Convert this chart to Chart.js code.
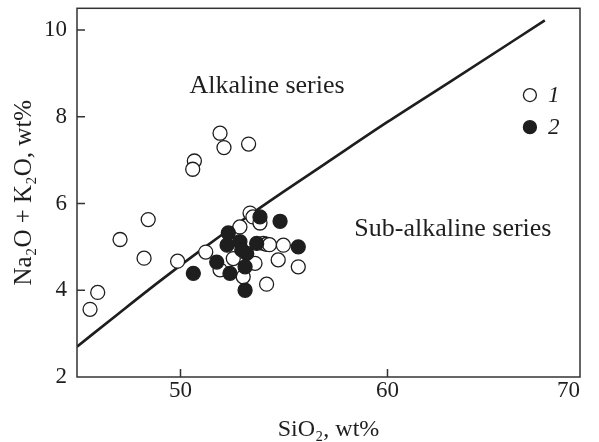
<!DOCTYPE html>
<html><head><meta charset="utf-8">
<script src="https://cdn.jsdelivr.net/npm/chart.js@4/dist/chart.umd.min.js"></script>
<style>html,body{margin:0;padding:0;background:#fff}canvas{display:block}</style>
</head><body>
<canvas id="c" width="599" height="442"></canvas>
<script>
// ---- data ----
const xTicks = [50, 60, 70];
const yTicks = [2, 4, 6, 8, 10];
const xLabel = 'SiO\u2082, wt%';
const yLabel = 'Na\u2082O + K\u2082O, wt%';
const seriesNames = ['1', '2'];
const regionLabels = ['Alkaline series', 'Sub-alkaline series'];
const regionX = [54.18, 63.16];
const regionY = [8.70, 5.41];

const series1X = [45.63, 46.0, 47.08, 48.24, 48.44, 49.86, 51.22, 50.67, 50.59, 51.91, 52.10, 53.29, 53.36, 53.50, 53.84, 52.87, 54.0, 54.16, 54.3, 54.97, 54.72, 55.69, 54.16, 52.55, 53.6, 51.91, 53.03];
const series1Y = [3.56, 3.95, 5.17, 4.74, 5.63, 4.67, 4.88, 6.98, 6.79, 7.62, 7.29, 7.37, 5.78, 5.69, 5.55, 5.46, 5.08, 5.06, 5.05, 5.04, 4.70, 4.54, 4.14, 4.73, 4.62, 4.47, 4.31];

const series2X = [50.62, 51.75, 52.31, 52.25, 52.87, 53.68, 53.84, 54.81, 55.69, 53.2, 53.12, 52.39, 53.12, 52.96];
const series2Y = [4.39, 4.65, 5.32, 5.04, 5.12, 5.08, 5.69, 5.59, 5.00, 4.85, 4.54, 4.39, 4.00, 4.93];

const boundaryX = [45, 47, 49, 51, 53, 55, 57, 60, 63, 67.6];
const boundaryY = [2.70, 3.46, 4.21, 4.93, 5.62, 6.28, 6.92, 7.88, 8.80, 10.22];

const legendX = 66.88;
const legendY = [8.50, 7.76];

const X_MIN = 45, X_MAX = 69.3, Y_MIN = 2, Y_MAX = 10.5;
const INK = '#1e1e1e';
const SERIF = '"Liberation Serif", "DejaVu Serif", serif';

const zip = (xs, ys) => xs.map((x, i) => ({x, y: ys[i]}));

const decor = {
  id: 'decor',
  afterDatasetsDraw(chart) {
    const {ctx, chartArea: a, scales: {x, y}} = chart;
    ctx.save();
    // frame
    ctx.strokeStyle = '#333';
    ctx.lineWidth = 1.5;
    ctx.strokeRect(a.left, a.top, a.right - a.left, a.bottom - a.top);
    // inward tick marks
    ctx.beginPath();
    xTicks.forEach(v => {
      if (v > X_MIN && v < X_MAX) {
        const px = x.getPixelForValue(v);
        ctx.moveTo(px, a.bottom); ctx.lineTo(px, a.bottom - 8);
      }
    });
    yTicks.forEach(v => {
      if (v > Y_MIN && v < Y_MAX) {
        const py = y.getPixelForValue(v);
        ctx.moveTo(a.left, py); ctx.lineTo(a.left + 8, py);
      }
    });
    ctx.stroke();
    // region labels
    ctx.fillStyle = INK;
    ctx.font = '26px ' + SERIF;
    ctx.textAlign = 'center';
    ctx.textBaseline = 'middle';
    regionLabels.forEach((t, i) => {
      ctx.fillText(t, x.getPixelForValue(regionX[i]), y.getPixelForValue(regionY[i]));
    });
    // legend
    const lx = x.getPixelForValue(legendX);
    legendY.forEach((v, i) => {
      const py = y.getPixelForValue(v);
      ctx.beginPath();
      ctx.arc(lx, py, 6.5, 0, Math.PI * 2);
      ctx.fillStyle = i === 0 ? '#fff' : INK;
      ctx.fill();
      ctx.lineWidth = 1.3;
      ctx.strokeStyle = INK;
      ctx.stroke();
      ctx.fillStyle = INK;
      ctx.font = 'italic 23px ' + SERIF;
      ctx.textAlign = 'left';
      ctx.fillText(seriesNames[i], lx + 18, py + 1);
    });
    ctx.restore();
  }
};

new Chart(document.getElementById('c'), {
  type: 'scatter',
  data: {
    datasets: [
      {
        type: 'line', label: 'boundary', order: 3,
        data: zip(boundaryX, boundaryY),
        borderColor: INK, borderWidth: 2.6, pointRadius: 0, fill: false,
        cubicInterpolationMode: 'monotone'
      },
      {
        label: seriesNames[0], order: 2,
        data: zip(series1X, series1Y),
        pointRadius: 7, pointBackgroundColor: '#fff', pointBorderColor: INK,
        pointBorderWidth: 1.3, pointHoverRadius: 7
      },
      {
        label: seriesNames[1], order: 1,
        data: zip(series2X, series2Y),
        pointRadius: 7, pointBackgroundColor: INK, pointBorderColor: INK,
        pointBorderWidth: 1.3, pointHoverRadius: 7
      }
    ]
  },
  options: {
    responsive: false,
    animation: false,
    events: [],
    layout: {padding: {top: 8, right: 19, left: 0, bottom: 0}},
    plugins: {legend: {display: false}, tooltip: {enabled: false}},
    scales: {
      x: {
        type: 'linear', min: X_MIN, max: X_MAX,
        grid: {display: false, drawTicks: false},
        border: {display: false},
        afterBuildTicks: s => { s.ticks = [{value: X_MIN}].concat(xTicks.map(v => ({value: Math.min(v, X_MAX)}))); },
        afterFit: s => { s.height = 65; s.paddingLeft = 0; s.paddingRight = 0; },
        ticks: {
          color: INK, padding: 0, maxRotation: 0, autoSkip: false, align: 'inner',
          font: {family: SERIF, size: 23},
          callback: (v, i) => i === 0 ? '' : String(xTicks[i - 1])
        },
        title: {display: true, text: xLabel, color: INK, font: {family: SERIF, size: 24, lineHeight: 1}, padding: {top: 0, bottom: 0}}
      },
      y: {
        type: 'linear', min: Y_MIN, max: Y_MAX,
        grid: {display: false, drawTicks: false},
        border: {display: false},
        afterBuildTicks: s => { s.ticks = yTicks.map(v => ({value: v})); },
        afterFit: s => { s.width = 77; s.paddingTop = 0; s.paddingBottom = 0; },
        ticks: {
          color: INK, padding: 10, autoSkip: false,
          font: {family: SERIF, size: 23},
          callback: (v, i) => String(yTicks[i])
        },
        title: {display: true, text: yLabel, color: INK, font: {family: SERIF, size: 25, lineHeight: 1.2}, padding: {top: 9, bottom: 0}}
      }
    }
  },
  plugins: [decor]
});
</script>
</body></html>
